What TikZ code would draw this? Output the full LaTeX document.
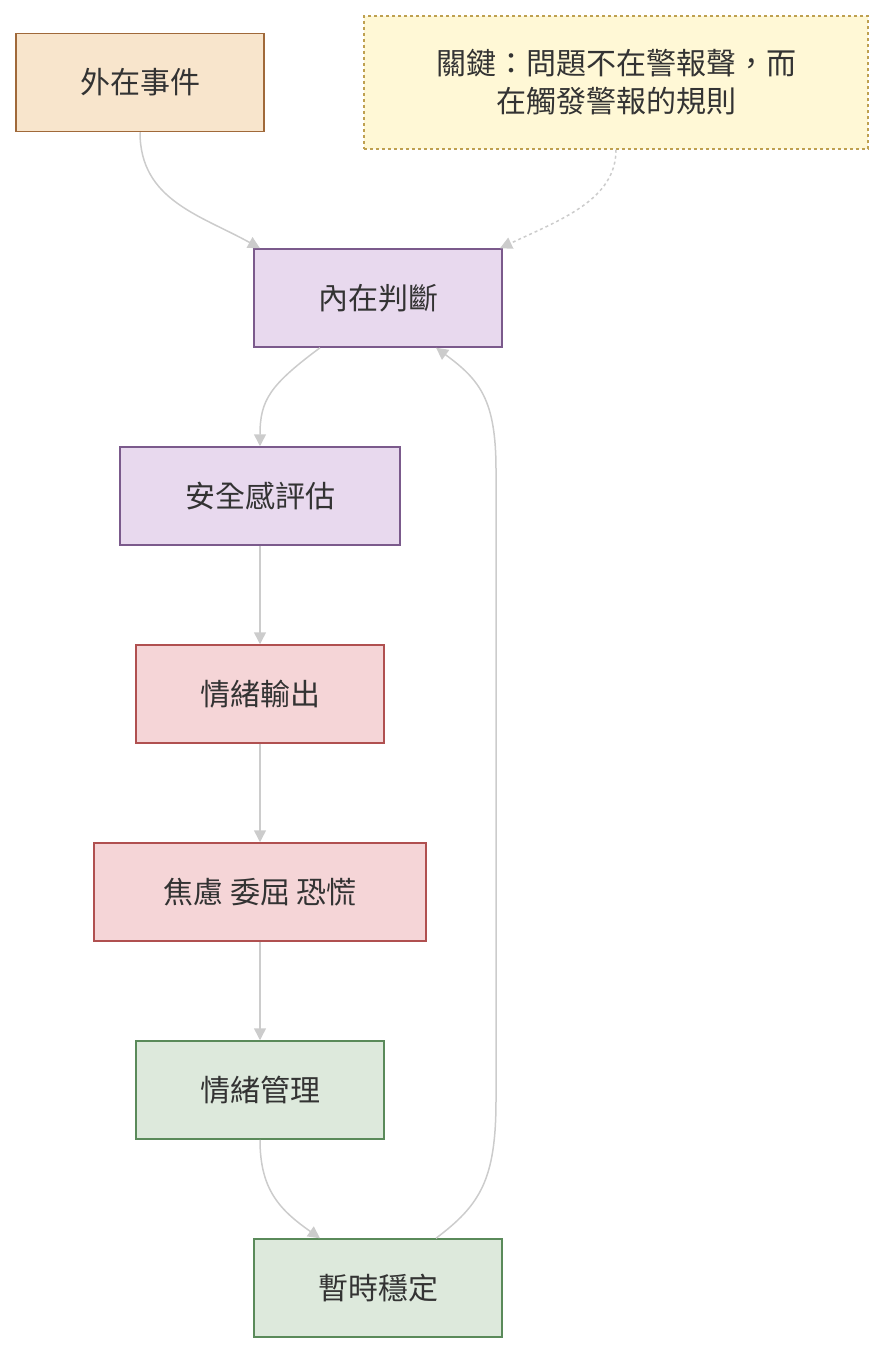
\documentclass[tikz,border=0pt]{standalone}
\usepackage{fontspec}
\setmainfont{Noto Sans CJK TC}
\usetikzlibrary{arrows.meta}
\definecolor{eg}{HTML}{CCCCCC}
\definecolor{tx}{HTML}{333333}
\tikzset{
 box/.style={draw, line width=1.5pt, minimum height=98pt, text=tx, font=\fontsize{30}{38}\selectfont, align=center, inner sep=0pt},
 ora/.style={box, fill={rgb,255:red,248;green,229;blue,204}, draw={rgb,255:red,160;green,105;blue,58}},
 pur/.style={box, fill={rgb,255:red,232;green,217;blue,238}, draw={rgb,255:red,123;green,90;blue,140}},
 red/.style={box, fill={rgb,255:red,245;green,213;blue,215}, draw={rgb,255:red,176;green,80;blue,80}},
 grn/.style={box, fill={rgb,255:red,221;green,233;blue,220}, draw={rgb,255:red,90;green,138;blue,90}},
 note/.style={box, dashed, fill={rgb,255:red,255;green,248;blue,214}, draw={rgb,255:red,190;green,160;blue,80}},
 edge/.style={draw=eg, line width=1.5pt, -{Triangle[length=12pt,width=12pt]}}
}
\begin{document}
\begin{tikzpicture}[x=1pt,y=-1pt]
\useasboundingbox (0,0) rectangle (884,1354);
\node[ora, minimum width=248pt] (a) at (140,82.5) {外在事件};
\node[note, minimum width=504pt, minimum height=133pt] (n) at (616,82.5) {關鍵：問題不在警報聲，而\\在觸發警報的規則};
\node[pur, minimum width=248pt] (b) at (378,298) {內在判斷};
\node[pur, minimum width=280pt] (c) at (260,496) {安全感評估};
\node[red, minimum width=248pt] (d) at (260,694) {情緒輸出};
\node[red, minimum width=332pt] (e) at (260,892) {焦慮 委屈 恐慌};
\node[grn, minimum width=248pt] (f) at (260,1090) {情緒管理};
\node[grn, minimum width=248pt] (g) at (378,1288) {暫時穩定};
\draw[edge] (a.south) .. controls (140,200) and (200,215) .. ([xshift=-118pt]b.north);
\draw[edge, dashed] (n.south) .. controls (616,200) and (560,220) .. ([xshift=122pt]b.north);
\draw[edge] ([xshift=-58pt]b.south) .. controls (270,385) and (260,400) .. (c.north);
\draw[edge] (c) -- (d);
\draw[edge] (d) -- (e);
\draw[edge] (e) -- (f);
\draw[edge] (f.south) .. controls (260,1190) and (280,1210) .. ([xshift=-58pt]g.north);
\draw[edge] ([xshift=58pt]g.north) .. controls (480,1205) and (496,1180) .. (496,1100) -- (496,470) .. controls (496,400) and (480,380) .. ([xshift=58pt]b.south);
\end{tikzpicture}
\end{document}
